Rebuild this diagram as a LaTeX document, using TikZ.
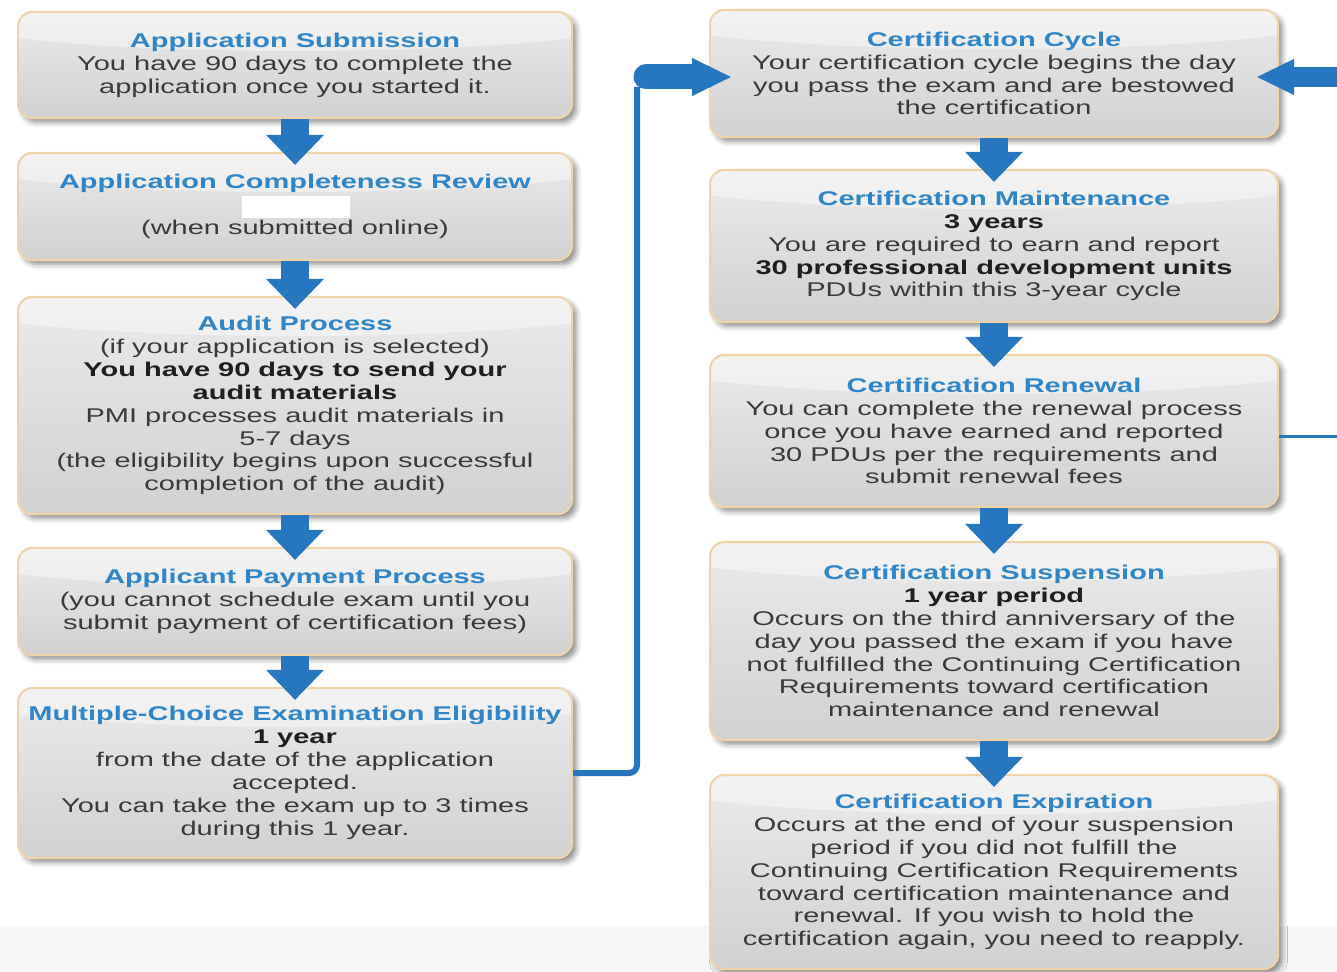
\documentclass[tikz,border=0pt]{standalone}
\usepackage{fontspec}
\setmainfont{Liberation Sans}[FakeStretch=1.46]
\usepackage{tikz}
\usetikzlibrary{arrows.meta, positioning, calc, shadows, shadows.blur}

\definecolor{azul}{RGB}{38,118,192}
\definecolor{azultitulo}{RGB}{46,134,200}
\definecolor{borde}{RGB}{238,212,168}
\definecolor{texto}{RGB}{58,58,58}
\newcommand{\titulo}[1]{{\bfseries\color{azultitulo}#1}}
\newcommand{\negro}[1]{{\bfseries\color{black!88}#1}}

\begin{document}
\begin{tikzpicture}[x=0.02cm, y=-0.02cm,
        paso/.style={rectangle, rounded corners=8pt, draw=borde, line width=1.2pt,
            top color=black!8, bottom color=black!18, align=center, text=texto,
            font=\fontsize{11.3}{13.05}\selectfont,
            blur shadow={shadow xshift=2.5pt, shadow yshift=-2.5pt, shadow blur radius=3pt, shadow opacity=45},
            path picture={\fill[white, opacity=.4] (path picture bounding box.north) ellipse [x radius=7.5cm, y radius=0.78cm];}},
        izq/.style={paso, minimum width=11.08cm},
        der/.style={paso, minimum width=11.36cm},
        flecha/.style={draw=azul, line width=0.56cm, -{Triangle[width=1.12cm, length=0.6cm]}},
        enlace/.style={draw=azul, line width=0.12cm}]
        \useasboundingbox (0,0) rectangle (1337,972);
        \fill[black!3] (0,926) rectangle (1337,972);
        % columna izquierda
        \node[izq, minimum height=2.12cm] (sub) at (295,65) {\titulo{Application Submission}\\You have 90 days to complete the\\application once you started it.};
        \node[izq, minimum height=2.14cm] (rev) at (295,206.5) {\titulo{Application Completeness Review}\\[13pt](when submitted online)};
        \node[izq, minimum height=4.34cm] (aud) at (295,405.5) {\titulo{Audit Process}\\(if your application is selected)\\\negro{You have 90 days to send your}\\\negro{audit materials}\\PMI processes audit materials in\\5-7 days\\(the eligibility begins upon successful\\completion of the audit)};
        \node[izq, minimum height=2.14cm] (pag) at (295,601.5) {\titulo{Applicant Payment Process}\\(you cannot schedule exam until you\\submit payment of certification fees)};
        \node[izq, minimum height=3.4cm] (exa) at (295,773) {\titulo{Multiple-Choice Examination Eligibility}\\\negro{1 year}\\from the date of the application\\accepted.\\You can take the exam up to 3 times\\during this 1 year.};
        \fill[white] (242,196) rectangle (350,218);
        % columna derecha
        \node[der, minimum height=2.54cm] (cic) at (994,73.5) {\titulo{Certification Cycle}\\Your certification cycle begins the day\\you pass the exam and are bestowed\\the certification};
        \node[der, minimum height=3.04cm] (man) at (994,246) {\titulo{Certification Maintenance}\\\negro{3 years}\\You are required to earn and report\\\negro{30 professional development units}\\PDUs within this 3-year cycle};
        \node[der, minimum height=3.04cm] (ren) at (994,431) {\titulo{Certification Renewal}\\You can complete the renewal process\\once you have earned and reported\\30 PDUs per the requirements and\\submit renewal fees};
        \node[der, minimum height=3.96cm] (sus) at (994,641) {\titulo{Certification Suspension}\\\negro{1 year period}\\Occurs on the third anniversary of the\\day you passed the exam if you have\\not fulfilled the Continuing Certification\\Requirements toward certification\\maintenance and renewal};
        \node[der, minimum height=3.88cm] (exp) at (994,872) {\titulo{Certification Expiration}\\Occurs at the end of your suspension\\period if you did not fulfill the\\Continuing Certification Requirements\\toward certification maintenance and\\renewal. If you wish to hold the\\certification again, you need to reapply.};
        % flechas
        \draw[flecha] (sub.south) -- ([yshift=-0.26cm]rev.north);
        \draw[flecha] (rev.south) -- ([yshift=-0.26cm]aud.north);
        \draw[flecha] (aud.south) -- ([yshift=-0.26cm]pag.north);
        \draw[flecha] (pag.south) -- ([yshift=-0.26cm]exa.north);
        \draw[flecha] (cic.south) -- ([yshift=-0.26cm]man.north);
        \draw[flecha] (man.south) -- ([yshift=-0.26cm]ren.north);
        \draw[flecha] (ren.south) -- ([yshift=-0.26cm]sus.north);
        \draw[flecha] (sus.south) -- ([yshift=-0.26cm]exp.north);
        % enlaces laterales
        \coordinate (codo) at (637,77);
        \coordinate (retorno) at (1337,77);
        \coordinate (salida) at (1337,437);
        \draw[enlace, rounded corners=0.16cm] (exa.east) -| ([yshift=-0.2cm]codo);
        \draw[azul, line width=0.5cm, line cap=round, -{Triangle[width=0.7cm, length=0.8cm]}] ([xshift=0.18cm]codo) -- ([xshift=0.46cm]codo -| cic.west);
        \draw[azul, line width=0.4cm, -{Triangle[width=0.66cm, length=0.76cm]}] (retorno) -- ([xshift=-0.46cm]retorno -| cic.east);
        \draw[azul, line width=0.06cm] (ren.east |- salida) -- (salida);
    \end{tikzpicture}
\end{document}
